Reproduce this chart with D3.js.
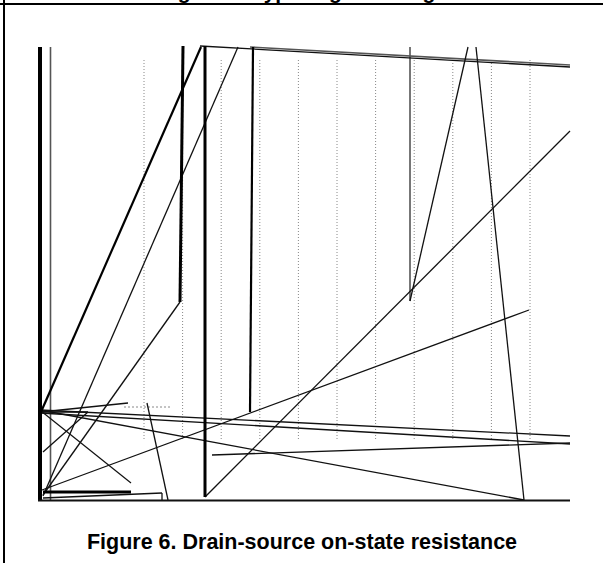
<!DOCTYPE html>
<html>
<head>
<meta charset="utf-8">
<script src="https://cdn.jsdelivr.net/npm/d3@7"></script>
<style>
  body { margin: 0; background: #fff; }
  svg { display: block; font-family: "Liberation Sans", Arial, sans-serif; }
</style>
</head>
<body>
<svg></svg>
<script>
// segments are [x1, y1, x2, y2] in plot units (x 0..54, y 0..46)
let gridX = [11.4, 15.26, 19.12, 22.98, 26.84, 30.7, 34.56, 38.42, 42.28, 46.14, 50.0];
let gridY = [6.0, 44.0];
let gridDotH = [[9.4, 9.3, 14.0, 9.3]];

let axisLines = [
  [1.0, 45.3, 1.0, 0],
  [0.8, -0.05, 54, -0.05]
];
let heavyLines = [
  [15.3, 45.4, 15.0, 19.8],
  [17.5, 45.4, 17.5, 0.3],
  [1.3, 0.8, 10.1, 0.8]
];
let mediumLines = [
  [22.3, 45.3, 22.0, 8.8],
  [1.1, 8.8, 17.1, 45.3]
];
let grayLines = [
  [2.05, 45.3, 2.05, 0],
  [38.0, 45.3, 38.0, 19.9],
  [22.0, 45.3, 54, 43.5]
];
let thinLines = [
  [17.0, 45.4, 54, 43.3],
  [15.0, 19.8, 1.3, 0.5],
  [17.5, 0.3, 54, 36.9],
  [38.0, 19.9, 43.8, 45.3],
  [44.6, 45.3, 49.4, 0],
  [1.3, 0.4, 20.8, 45.3],
  [1.0, 9.0, 54, 6.4],
  [1.0, 8.7, 54, 5.6],
  [18.2, 4.5, 54, 5.7],
  [1.0, 9.0, 49.4, 0],
  [1.2, 1.0, 49.9, 19.0],
  [1.1, 8.9, 10.1, 1.7],
  [1.1, 8.8, 9.8, 9.7],
  [1.1, 8.8, 5.8, 8.8],
  [5.8, 8.8, 1.3, 4.8],
  [11.7, 9.7, 13.8, 0],
  [1.3, 0.2, 13.2, 0.7],
  [13.2, 0.7, 13.2, 0]
];

let titleText = 'Figure 5. Typical gate charge';
let captionText = 'Figure 6. Drain-source on-state resistance';

let width = 603;
let height = 563;

let xScale = d3.scaleLinear().domain([0, 54]).range([30, 570]);
let yScale = d3.scaleLinear().domain([0, 46]).range([500, 40]);

let svg = d3.select('svg')
  .attr('width', width)
  .attr('height', height);

svg.append('rect')
  .attr('width', width)
  .attr('height', height)
  .attr('fill', '#fff');

// page frame
svg.append('line')
  .attr('x1', 4).attr('y1', 0).attr('x2', 4).attr('y2', height)
  .attr('stroke', '#000').attr('stroke-width', 2);
svg.append('line')
  .attr('x1', 0).attr('y1', 4).attr('x2', width).attr('y2', 4)
  .attr('stroke', '#000').attr('stroke-width', 2);

// dotted grid
svg.append('g')
  .selectAll('line')
  .data(gridX)
  .enter()
  .append('line')
  .attr('x1', d => xScale(d))
  .attr('x2', d => xScale(d))
  .attr('y1', yScale(gridY[1]))
  .attr('y2', yScale(gridY[0]))
  .attr('stroke', '#888')
  .attr('stroke-width', 1)
  .attr('stroke-dasharray', '1,2');

svg.append('g')
  .selectAll('line')
  .data(gridDotH)
  .enter()
  .append('line')
  .attr('x1', d => xScale(d[0]))
  .attr('y1', d => yScale(d[1]))
  .attr('x2', d => xScale(d[2]))
  .attr('y2', d => yScale(d[3]))
  .attr('stroke', '#888')
  .attr('stroke-width', 1)
  .attr('stroke-dasharray', '2,2');

function drawSegments(data, color, w) {
  svg.append('g')
    .selectAll('line')
    .data(data)
    .enter()
    .append('line')
    .attr('x1', d => xScale(d[0]))
    .attr('y1', d => yScale(d[1]))
    .attr('x2', d => xScale(d[2]))
    .attr('y2', d => yScale(d[3]))
    .attr('stroke', color)
    .attr('stroke-width', w);
}

drawSegments(grayLines, '#555', 1.6);
drawSegments(thinLines, '#111', 1.3);
drawSegments(mediumLines, '#000', 2.2);
drawSegments(heavyLines, '#000', 3);
drawSegments([axisLines[0]], '#000', 4);
drawSegments([axisLines[1]], '#111', 2);

svg.append('text')
  .attr('x', 303)
  .attr('y', -1.5)
  .style('text-anchor', 'middle')
  .style('font-weight', 'bold')
  .style('font-size', '21px')
  .text(titleText);

svg.append('text')
  .attr('x', 302)
  .attr('y', 549)
  .style('text-anchor', 'middle')
  .style('font-weight', 'bold')
  .style('font-size', '21.5px')
  .text(captionText);
</script>
</body>
</html>
